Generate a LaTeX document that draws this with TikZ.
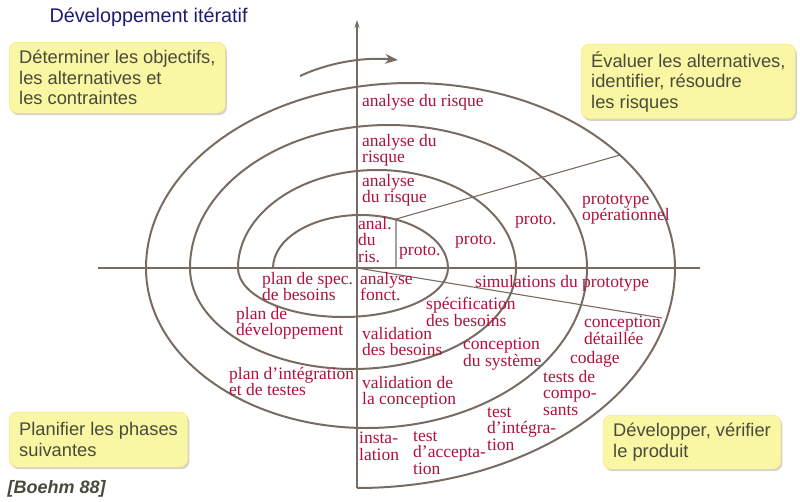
\documentclass[tikz,border=0pt]{standalone}
\usepackage{fontspec}
\setmainfont{Liberation Serif}
\newfontfamily\boxfont{Liberation Sans}
\usetikzlibrary{arrows.meta,shadows}
\definecolor{labred}{HTML}{B0103A}
\definecolor{spiral}{HTML}{786C62}
\definecolor{boxfill}{HTML}{F9F6A4}
\definecolor{boxtext}{HTML}{4A4A3C}
\definecolor{titleblue}{HTML}{1C1C70}

\begin{document}
\begin{tikzpicture}[x=1pt,y=-1pt,
    lab/.style = {anchor=north west, inner sep=0pt, align=left, color=labred,
                font=\fontsize{17.5}{16.5}\selectfont},
    phase/.style = {rounded corners=8pt, fill=boxfill, draw=boxfill!80!orange,
                drop shadow={shadow xshift=1.5pt, shadow yshift=-2pt, opacity=0.35},
                align=left, anchor=north west, inner xsep=10pt, inner ysep=7pt,
                text=boxtext, font=\boxfont\fontsize{18.3}{20.5}\selectfont},
    axis/.style = {spiral, line width=1.1pt},
    turn/.style = {spiral, line width=2pt}
                    ]
    \useasboundingbox (0,0) rectangle (800,501);
        % axes
        \coordinate (O) at (357,268);
        \coordinate (top) at (357,20);
        \coordinate (bot) at (357,488);
        \coordinate (west) at (98,268);
        \coordinate (east) at (700,268);
        \draw [axis,-{Stealth[length=8pt,width=5pt]}] (bot) -- (top);
        \draw [axis] (west) -- (east);
        % spiral
        \draw [turn] (273,268)
            arc[start angle=180, end angle=360, x radius=87.5, y radius=53]
            arc[start angle=0, end angle=180, x radius=105, y radius=49]
            arc[start angle=180, end angle=360, x radius=139, y radius=98]
            arc[start angle=0, end angle=180, x radius=163, y radius=101]
            arc[start angle=180, end angle=360, x radius=198.5, y radius=143]
            arc[start angle=0, end angle=180, x radius=220.5, y radius=160]
            arc[start angle=180, end angle=360, x radius=264.5, y radius=185]
            arc[start angle=0, end angle=90, x radius=318, y radius=220];
        % sector lines
        \coordinate (r0) at (396,268);
        \coordinate (r1) at (396,219);
        \coordinate (r2) at (620,155);
        \coordinate (s2) at (662,318);
        \draw [axis] (r0) -- (r1) -- (r2);
        \draw [axis] (O) -- (s2);
        % rotation arrow
        \coordinate (rs) at (300,76);
        \coordinate (re) at (398,60);
        \draw [turn,-{Stealth[length=13pt,width=10pt]}] (rs) .. controls (330,62) and (365,57) .. (re);
        % labels
        \foreach \x/\y/\n/\t in {
            362/94/ar1/{analyse du risque},
            362/134/ar2/{analyse du\\risque},
            362/174/ar3/{analyse\\du risque},
            358/217/ar4/{anal.\\du\\ris.},
            399/245/pr1/{proto.},
            455/234/pr2/{proto.},
            515/214/pr3/{proto.},
            582/194/pr4/{prototype\\opérationnel},
            475/275/sim/{simulations du prototype},
            360/272/af/{analyse\\fonct.},
            262/272/ps/{plan de spec.\\de besoins},
            236/307/pd/{plan de\\développement},
            229/367/pi/{plan d’intégration\\et de testes},
            426/297/sb/{spécification\\des besoins},
            362/327/vb/{validation\\des besoins},
            463/338/cs/{conception\\du système},
            362/376/vc/{validation de\\la conception},
            584/316/cd/{conception\\détaillée},
            570/351/cod/{codage},
            543/370/tc/{tests de\\compo-\\sants},
            487/407/ti/{test\\d’intégra-\\tion},
            359/432/ins/{insta-\\lation},
            413/431/ta/{test\\d’accepta-\\tion}}
            \node[lab] at (\x,\y) (\n) {\t};
        % quadrants
        \node[phase, minimum width=202pt, minimum height=71pt] at (9,42) (q1)
            {Déterminer les objectifs,\\les alternatives et\\les contraintes};
        \node[phase, minimum width=198pt, minimum height=71pt] at (581,44) (q2)
            {Évaluer les alternatives,\\identifier, résoudre\\les risques};
        \node[phase, minimum width=175pt, minimum height=55pt] at (9,412) (q3)
            {Planifier les phases\\suivantes};
        \node[phase, minimum width=174pt, minimum height=54pt] at (603,415) (q4)
            {Développer, vérifier\\le produit};
        \node[anchor=west, text=titleblue, font=\boxfont\fontsize{19.8}{22}\selectfont] at (46,17) (title)
            {Développement itératif};
        \node[anchor=west, text=boxtext, font=\boxfont\bfseries\itshape\fontsize{18}{20}\selectfont] at (4,489) (ref)
            {[Boehm 88]};
    \end{tikzpicture}
\end{document}
